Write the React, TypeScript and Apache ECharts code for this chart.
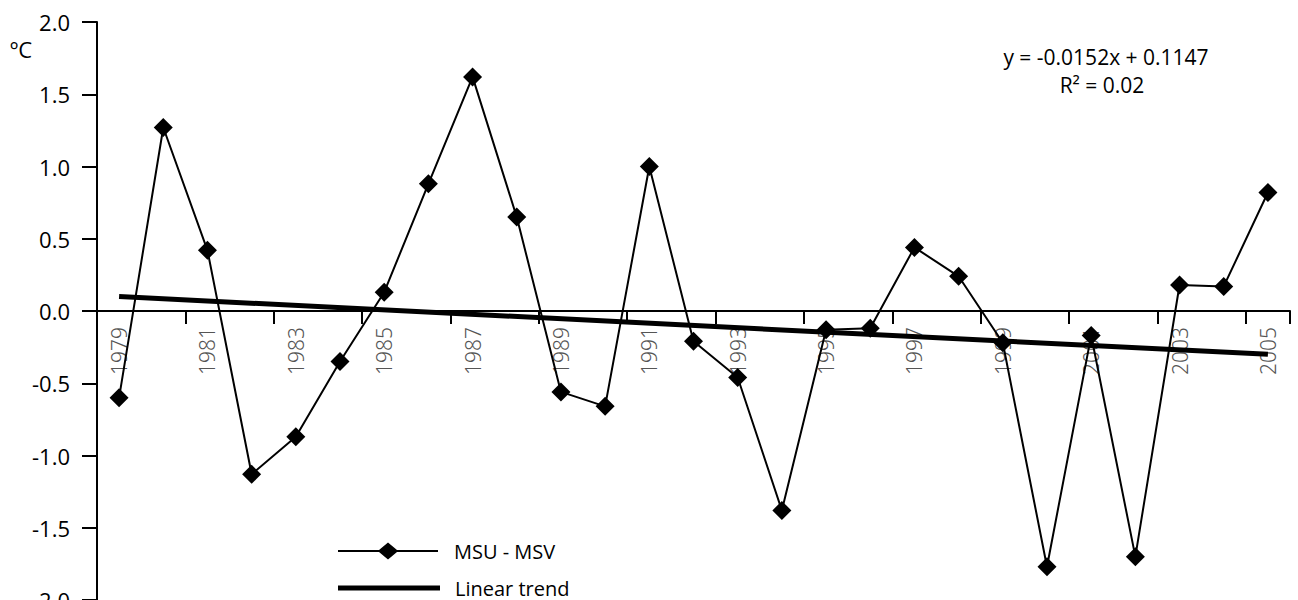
import React, { useEffect, useRef } from "react";
import * as echarts from "echarts";

const years = [
  "1979", "1980", "1981", "1982", "1983", "1984", "1985", "1986", "1987", "1988",
  "1989", "1990", "1991", "1992", "1993", "1994", "1995", "1996", "1997", "1998",
  "1999", "2000", "2001", "2002", "2003", "2004", "2005",
];
const msuMinusMsv = [
  -0.6, 1.27, 0.42, -1.13, -0.87, -0.35, 0.13, 0.88, 1.62, 0.65,
  -0.56, -0.66, 1.0, -0.21, -0.46, -1.38, -0.13, -0.12, 0.44, 0.24,
  -0.22, -1.77, -0.17, -1.7, 0.18, 0.17, 0.82,
];
// linear trend endpoints (first and last year)
const trendStart = 0.1;
const trendEnd = -0.3;
const yTicks = { min: -2, max: 2, interval: 0.5 };
const equationText = "y = -0.0152x + 0.1147";
const r2Text = "R² = 0.02";
const unitText = "ºC";
const seriesNames = ["MSU - MSV", "Linear trend"];

export default function App() {
  const ref = useRef<HTMLDivElement>(null);
  useEffect(() => {
    if (!ref.current) return;
    const chart = echarts.init(ref.current, undefined, { renderer: "svg" });
    const trendData = years.map((_, i) =>
      i === 0 ? trendStart : i === years.length - 1 ? trendEnd : null
    );
    const legendText = { color: "#000", fontSize: 20, fontFamily: "Open Sans", padding: [0, 0, 0, 10] };
    chart.setOption({
      animation: false,
      backgroundColor: "#fff",
      textStyle: { fontFamily: "Open Sans" },
      grid: {
        left: 97,
        right: 8,
        top: 22,
        bottom: 0,
        containLabel: false,
        outerBoundsMode: "none",
      },
      xAxis: {
        type: "category",
        data: years,
        boundaryGap: true,
        position: "bottom",
        offset: -289,
        axisLine: { onZero: false, lineStyle: { color: "#000", width: 2 } },
        axisTick: { show: true, inside: false, length: 13, lineStyle: { color: "#000", width: 2 } },
        axisLabel: {
          interval: 1,
          rotate: 90,
          margin: 16,
          color: "#555",
          fontFamily: "Noto Sans",
          fontWeight: 300,
          fontSize: 21,
        },
        splitLine: { show: false },
      },
      yAxis: {
        type: "value",
        min: yTicks.min,
        max: yTicks.max,
        interval: yTicks.interval,
        axisLine: { show: true, lineStyle: { color: "#000", width: 2 } },
        axisTick: { show: true, length: 15, lineStyle: { color: "#000", width: 2 } },
        axisLabel: {
          margin: 27,
          color: "#000",
          fontSize: 22,
          fontFamily: "Open Sans",
          formatter: (v: number) => v.toFixed(1),
        },
        splitLine: { show: false },
      },
      legend: [
        {
          left: 333,
          top: 536,
          itemWidth: 102,
          itemHeight: 17,
          data: [
            {
              name: seriesNames[0],
              icon: "path://M0,7.5 L41,7.5 L50,0 L59,7.5 L100,7.5 L100,9.5 L59,9.5 L50,17 L41,9.5 L0,9.5 Z",
            },
          ],
          textStyle: legendText,
        },
        {
          left: 333,
          top: 573,
          itemWidth: 102,
          itemHeight: 16,
          data: [{ name: seriesNames[1], icon: "path://M0,0 L100,0 L100,5 L0,5 Z" }],
          textStyle: legendText,
        },
      ],
      graphic: [
        {
          type: "text",
          left: 10,
          top: 38,
          style: { text: unitText, fontSize: 22, fontFamily: "Open Sans", fill: "#000" },
        },
        {
          type: "text",
          x: 1106,
          y: 57,
          style: {
            text: equationText,
            fontSize: 21,
            fontFamily: "Open Sans",
            fill: "#000",
            align: "center",
            verticalAlign: "middle",
          },
        },
        {
          type: "text",
          x: 1102,
          y: 85,
          style: {
            text: r2Text,
            fontSize: 21,
            fontFamily: "Open Sans",
            fill: "#000",
            align: "center",
            verticalAlign: "middle",
          },
        },
      ],
      series: [
        {
          name: seriesNames[0],
          type: "line",
          data: msuMinusMsv,
          symbol: "diamond",
          symbolSize: 19,
          itemStyle: { color: "#000" },
          lineStyle: { color: "#000", width: 2 },
          z: 3,
        },
        {
          name: seriesNames[1],
          type: "line",
          data: trendData,
          connectNulls: true,
          symbol: "none",
          itemStyle: { color: "#000" },
          lineStyle: { color: "#000", width: 5 },
          z: 2,
        },
      ],
    });
    return () => chart.dispose();
  }, []);
  return (
    <div
      ref={ref}
      style={{ position: "fixed", left: 0, top: 0, width: 1298, height: 600, background: "#fff" }}
    />
  );
}
